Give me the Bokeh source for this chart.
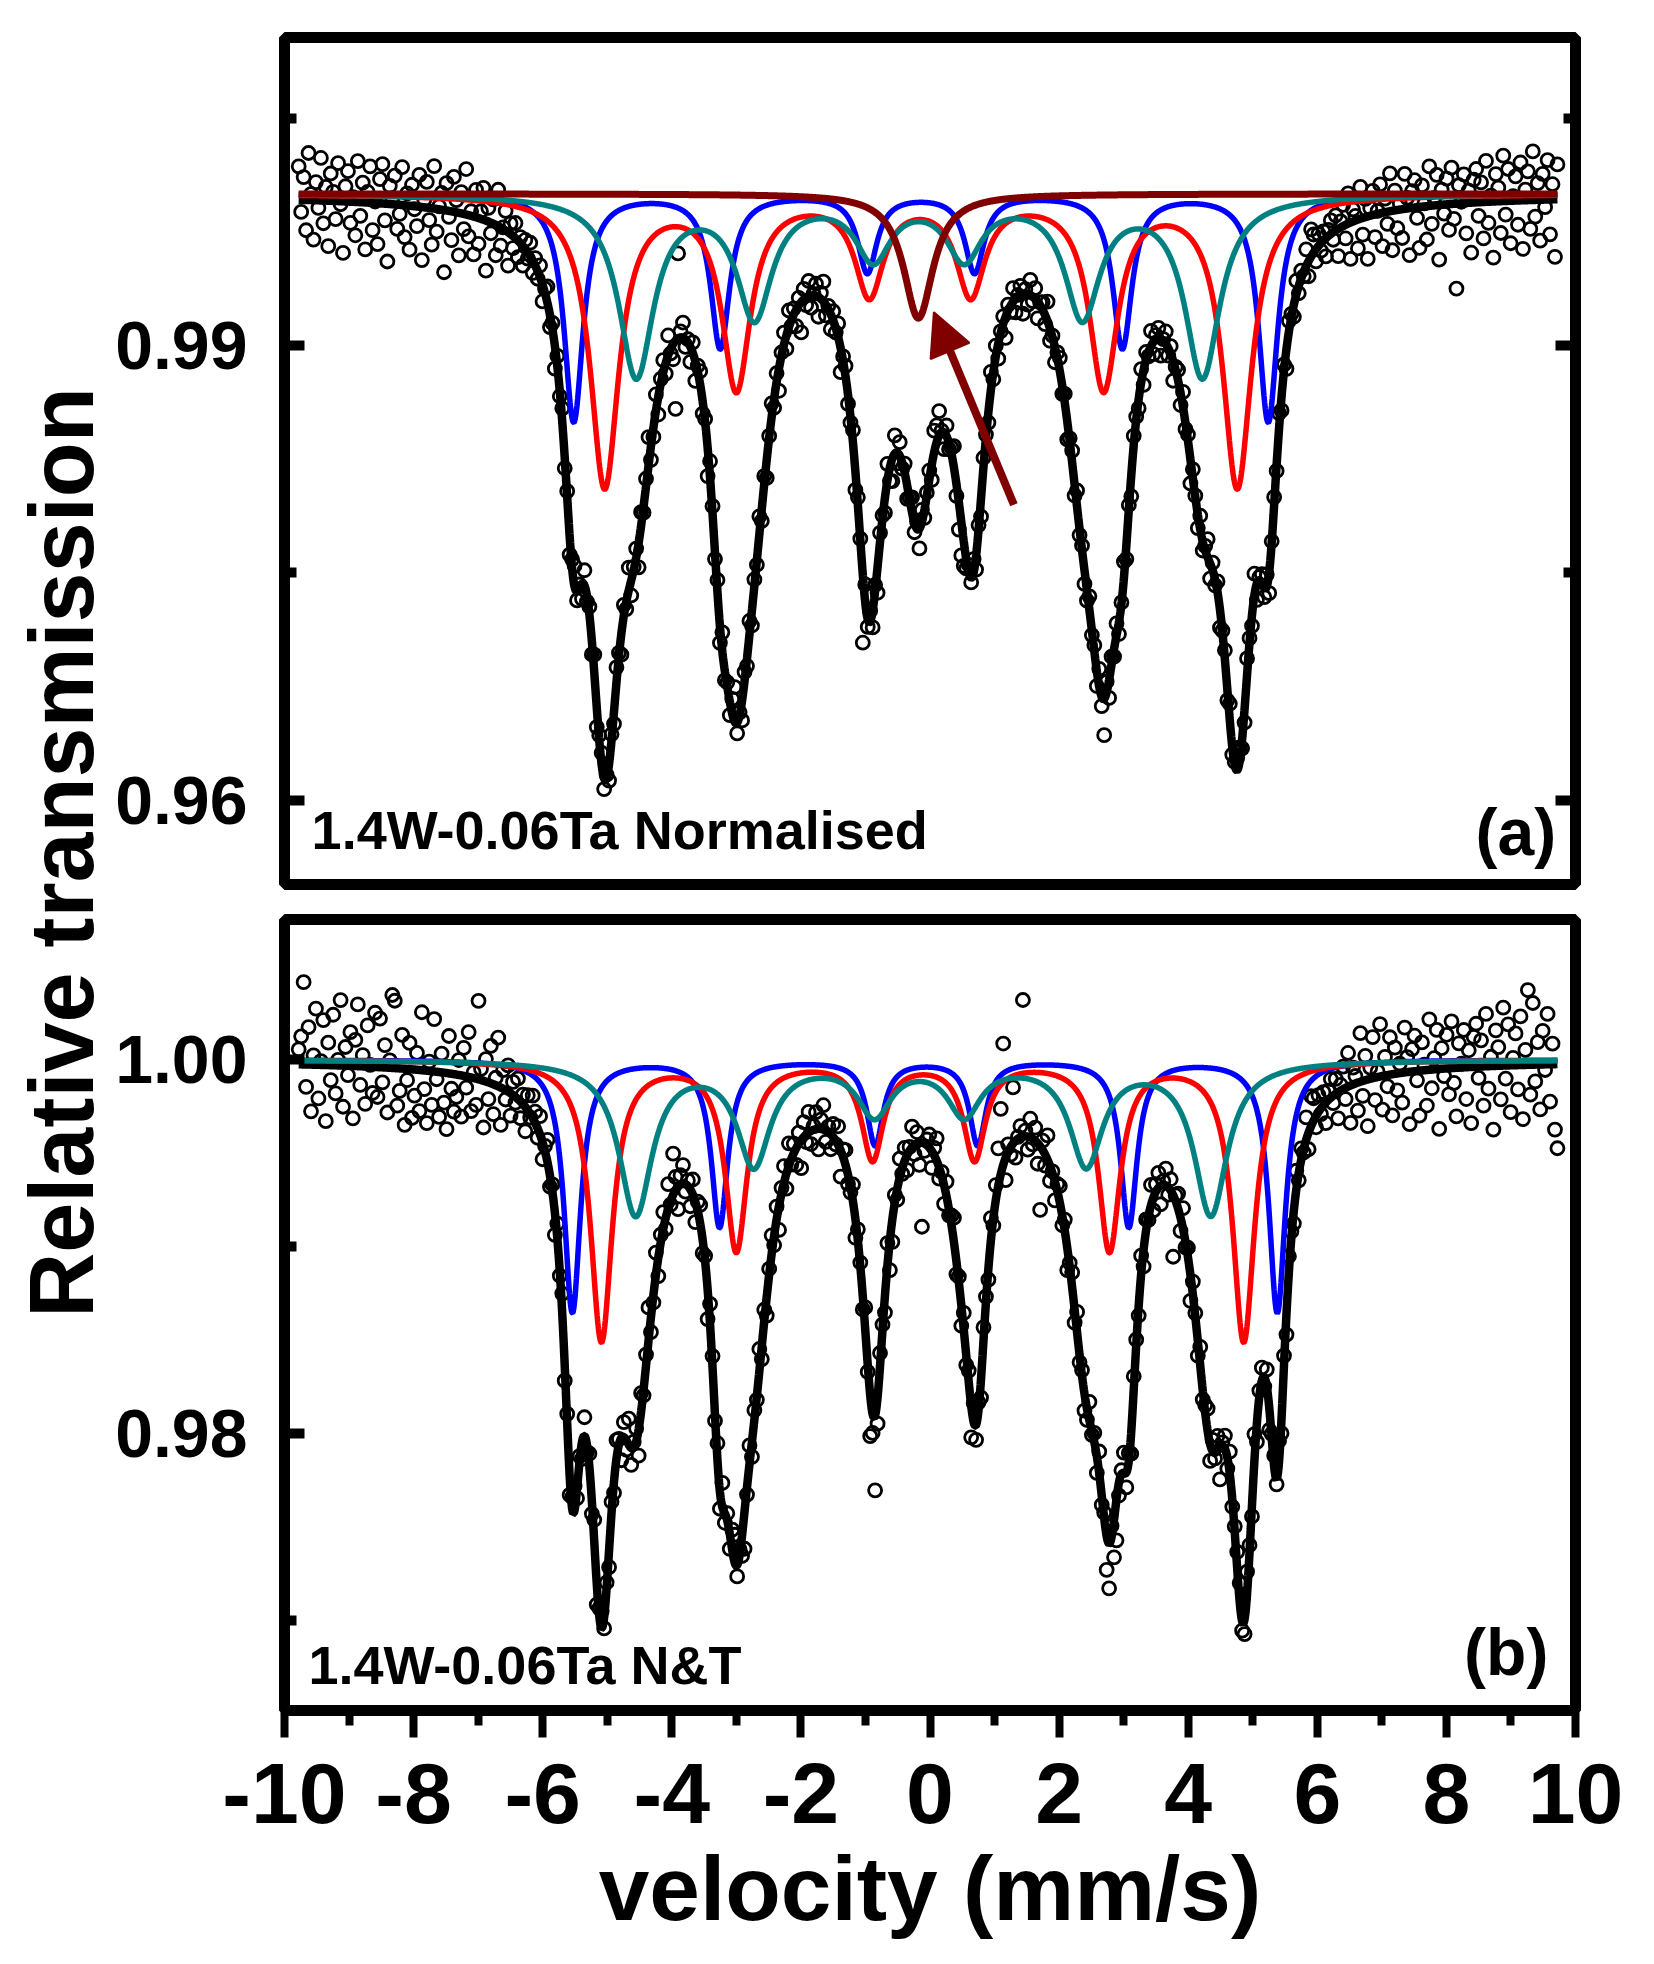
import numpy as np

from bokeh.embed import file_html
from bokeh.layouts import column, row
from bokeh.models import (Arrow, CustomJSTickFormatter, FixedTicker, Label, LinearAxis,
                          NormalHead, PrintfTickFormatter, Range1d)
from bokeh.plotting import figure
from bokeh.resources import INLINE

# velocity channels of the spectra (mm/s)
v_first, v_last = -9.78, 9.72

# --- panel (a): 1.4W-0.06Ta Normalised, sextets ---
blue_pos_a = [-5.52, -3.25, -0.97, 0.69, 2.98, 5.24]
blue_depth_a = [0.0150, 0.0101, 0.0051, 0.0051, 0.0101, 0.0150]
blue_hw_a = 0.18
red_pos_a = [-5.04, -3.00, -0.94, 0.63, 2.69, 4.76]
red_depth_a = [0.0192, 0.0126, 0.0064, 0.0064, 0.0126, 0.0192]
red_hw_a = 0.27
teal_pos_a = [-4.55, -2.72, -0.88, 0.53, 2.36, 4.22]
teal_depth_a = [0.0119, 0.0079, 0.0040, 0.0040, 0.0079, 0.0119]
teal_hw_a = 0.33
brown_pos_a = [-0.18]
brown_depth_a = [0.0082]
brown_hw_a = 0.28
# weight of every line in the black total fit, and its line broadening
blue_in_total_a = [1.0, 1.0, 1.3, 1.2, 1.0, 1.0]
red_in_total_a = [1.6, 1.75, 1.8, 1.6, 1.75, 1.6]
teal_in_total_a = [1.15, 1.4, 1.5, 1.4, 1.4, 1.15]
brown_in_total_a = [1.85]
total_broadening_a = 1.07

# --- panel (b): 1.4W-0.06Ta N&T ---
blue_pos_b = [-5.54, -3.26, -0.85, 0.74, 3.08, 5.38]
blue_depth_b = [0.0135, 0.0089, 0.0045, 0.0045, 0.0089, 0.0135]
blue_hw_b = 0.155
red_pos_b = [-5.09, -3.00, -0.89, 0.69, 2.78, 4.86]
red_depth_b = [0.0150, 0.0101, 0.0052, 0.0052, 0.0101, 0.0150]
red_hw_b = 0.205
teal_pos_b = [-4.56, -2.73, -0.86, 0.53, 2.42, 4.35]
teal_depth_b = [0.0082, 0.0055, 0.0028, 0.0028, 0.0055, 0.0082]
teal_hw_b = 0.31
blue_in_total_b = [1.3, 1.3, 1.2, 1.3, 1.3, 1.25]
red_in_total_b = [1.55, 1.55, 1.5, 1.55, 1.6, 1.55]
teal_in_total_b = [1.9, 2.0, 1.6, 2.0, 2.2, 1.9]
total_broadening_b = 1.07

# measured points minus the fit, in units of 1e-4
resid_a = [
    22, -8, 15, -20, 31, 4, -26, 12, -5, 28, -15, 9, -30, 18, 6, -12, 25, -2, -34, 10, 20, -14, 3, -22, 27, -9, 13, -31, 7, 24, -18, 1,
    -27, 16, 26, -11, -38, 12, 4, 19, -16, -6, 25, -21, 8, -29, 14, -2, -13, 21, -35, 5, 17, -8, -24, 28, -15, 2, 11, -41, 18, -4, -19, 23,
    8, -28, 14, -10, 30, -14, 3, -25, 18, -17, 5, 21, -33, 9, -7, 16, -20, 24, -12, 1, 13, -22, 7, -8, 10, -11, 4, -13, 6, -4, 9, -8,
    5, -5, 8, -11, 3, 11, -8, 4, -15, 7, -3, 9, -7, 4, -12, 6, 14, -6, 2, -10, 10, -4, 5, -9, 12, -13, 3, 8, -7, 2, -11, 4,
    -8, 10, 2, -14, 7, -5, 15, -10, 2, 6, -16, 9, -4, 5, 19, -9, -6, 11, -12, 3, 8, -7, 13, -3, -10, -45, 56, 4, 10, -5, 2, -10,
    7, -13, 4, 9, -8, 2, -19, 11, 5, -4, 8, -11, 13, -6, 3, -9, 10, 23, -7, 2, -13, 6, -5, 9, -10, 4, -3, 12, -8, 5, -12, 1,
    9, -6, 6, -15, 2, 8, -9, 11, -4, 4, -11, 5, -20, 7, -5, 10, -8, 1, 8, -13, 4, 13, -7, 2, -10, 6, -3, 9, -16, 3, 7, -6,
    -4, 8, -12, 5, 1, -45, 12, -5, 7, -11, 4, -17, 6, 2, -10, 11, -9, -15, 12, -7, 9, -4, 6, -9, 1, 10, -6, 5, -13, 8, -5, 2,
    6, -10, 14, 11, 16, 1, -11, 7, -4, 4, 14, -8, -18, -22, -16, -6, 5, -3, 9, -9, 3, -12, 6, 2, -7, 12, -5, 7, -10, 1, 5, -14,
    4, -4, 9, -9, 1, 6, -13, 3, -7, 10, -3, 7, -11, 2, 5, -6, 13, -8, 1, -10, 4, 9, -5, 6, -12, 2, 8, -7, 11, -4, 3, -9,
    -7, 9, -3, 4, -10, 12, -6, -24, 7, -12, 5, -5, 8, -8, 1, 11, -9, 3, -14, 6, 2, -6, 9, -10, 5, -3, 10, -8, 3, 7, -11, 1,
    8, -5, 5, -13, 2, 7, -8, 10, -4, 4, -16, 6, 1, -9, 9, -6, 3, 12, -10, 5, -4, 7, -12, 1, 6, -7, 11, -5, 2, 8, 9, -6,
    -9, 11, 3, -7, 14, -11, 2, 6, -6, 8, -14, 1, 5, -4, 10, -9, 4, -13, 7, 2, -8, 9, -5, 5, -3, 11, -10, 18, 12, -8, 8, -5,
    6, -12, 4, 9, -5, 10, -18, 4, 14, -9, 20, -24, 8, 3, -19, 21, -11, 12, -28, 5, 16, -15, 2, 19, -22, 9, -8, 25, -26, 13, -12, 4,
    -19, 23, 7, -31, 11, 18, -7, -27, 14, 2, -22, 26, -12, 5, 20, -36, 10, -6, 17, -17, 24, -10, -56, 12, 1, 19, -20, 8, -33, 15, 22, -9,
    13, -24, 27, -14, 4, -37, 18, 9, -21, 30, -9, 21, -28, 3, 16, -16, 25, -32, 7, 19, -19, 32, -11, 11, -27, 17, -5, 26, -23, 10, -38, 23,
]
resid_b = [
    8, 15, 44, -12, 20, -25, 5, 30, -18, 2, 24, -30, 12, -8, 27, -15, 3, 35, -22, 10, -5, 18, -28, 14, 33, -10, 6, -20, 22, 1, -14, 29,
    -16, 26, -8, 12, -24, 4, 39, 36, -20, -12, 18, -30, -6, 14, -26, -14, 9, -22, 31, -10, -28, 5, -18, 28, -4, -24, 10, -16, -30, 20, -8, -20,
    -12, 8, -22, 15, -6, 24, -18, 3, -14, 42, 6, -25, 12, -9, 20, -16, 4, 26, -20, 10, -5, 14, -12, 7, -3, 11, -9, 5, -13, 8, -2, 12,
    6, -5, 10, -9, 3, 12, -6, 4, -12, 8, -2, 11, -8, 5, -10, 6, 13, -5, 3, -9, 10, -4, 7, -7, 12, -11, 4, 9, -6, 3, -9, 6,
    -6, 10, 3, -12, 8, -5, 14, -9, 3, 7, -14, 10, -3, 6, 18, -8, -4, 12, -10, 4, 9, -6, 13, -2, 22, 7, -12, 5, 10, -4, 3, -9,
    8, -11, 5, 10, -7, 3, -16, 11, 6, -3, 9, -9, 13, -5, 4, -8, 11, 15, -6, 3, -11, -20, -4, 10, -8, 5, -2, 12, -7, 6, -10, 3,
    10, -5, 7, -13, 3, 9, -8, 12, -3, 5, -9, 6, -15, 8, -4, 11, -7, 2, 9, -11, 5, 13, -6, 3, -8, 7, -2, 10, -14, 4, 8, -5,
    -3, 9, -10, 6, 2, -7, 12, -4, -22, -10, -40, -14, 7, 3, -9, 12, -16, -12, 4, -6, 10, -3, 7, -8, 2, 11, -5, 6, -12, -45, -4, 3,
    7, -9, 4, 12, -6, 2, -10, 8, -3, 5, 13, -7, 3, -11, 9, -5, 6, -17, 10, -8, 4, -10, 7, 3, -6, 12, -4, 8, 20, 35, 65, -12,
    4, -4, 30, -9, 1, 6, 73, 3, -7, 10, -3, 7, -11, -34, 5, -6, 13, -8, 1, -10, 4, 9, -5, 6, -12, 2, 8, -7, 11, -4, 3, -9,
    -6, 10, -2, 5, -9, 12, -5, 3, -18, -24, 6, -20, -22, -7, 2, 11, -8, 4, -12, 7, 3, -5, 10, -9, 6, -2, 11, -7, 4, 8, -10, 2,
    9, -4, 6, -33, 3, 8, -7, 11, -3, 5, -14, 7, 2, -8, 10, -5, 4, 12, -9, 6, -3, 8, -17, 2, 7, -6, 12, -4, 3, 9, 10, -5,
    -8, 12, 4, -6, 14, -10, 3, 7, -5, 9, -12, 2, 6, -3, 11, -8, 5, -11, 8, 3, -7, 10, -4, 6, -2, 12, -9, 16, 12, -6, 9, -3,
    7, -11, 5, 10, -4, 8, -14, 3, 12, -6, 18, -20, 9, 4, -15, 26, -8, 13, -25, 6, 22, -12, 3, 28, -18, 10, -6, 20, -22, 14, -9, 5,
    -16, 24, 8, -28, 12, 19, -5, -24, 15, 3, -19, 27, -10, 6, 21, -32, 11, -4, 18, -14, 25, -8, -26, 13, 2, 20, -17, 9, -30, 16, 23, -6,
    14, -21, 28, -12, 5, -34, 19, 10, -18, 31, -7, 22, -25, 4, 17, -13, 26, -29, 8, 40, -16, 33, -9, 12, -24, 18, -3, 27, -20, 11, -35, -45,
]

# arrow pointing at the extra singlet in (a): tail, head (velocity, transmission)
arrow_tail_a = (1.30, 0.9795)
arrow_head_a = (0.06, 0.9922)

x_ticks = [-10, -8, -6, -4, -2, 0, 2, 4, 6, 8, 10]
x_minor = [-9, -7, -5, -3, -1, 1, 3, 5, 7, 9]
y_ticks_a, y_minor_a = [0.96, 0.99], [0.975, 1.005]
y_ticks_b, y_minor_b = [0.98, 1.00], [0.97, 0.99]

BLUE, RED, TEAL, BROWN = "#0000FF", "#FF0000", "#008080", "#800000"
FONT = "Liberation Sans"


def lorentz(v, pos, depth, hw):
    out = np.zeros_like(v)
    for p, d in zip(pos, depth):
        out += d * hw ** 2 / ((v - p) ** 2 + hw ** 2)
    return out


def total_fit(v, parts, weights, broadening):
    absorb = np.zeros_like(v)
    for (pos, depth, hw), w in zip(parts, weights):
        absorb += lorentz(v, pos, [d * k for d, k in zip(depth, w)], hw * broadening)
    return 1 - absorb


def style_y(axis, ticks, minor, labels=True):
    axis.ticker = FixedTicker(ticks=ticks, minor_ticks=minor)
    axis.axis_line_color = None
    axis.major_tick_in = 20
    axis.major_tick_out = 0
    axis.minor_tick_in = 12
    axis.minor_tick_out = 0
    axis.major_tick_line_width = 10
    axis.minor_tick_line_width = 10
    axis.major_tick_line_color = "black"
    axis.minor_tick_line_color = "black"
    if labels:
        axis.formatter = PrintfTickFormatter(format="%.2f")
        axis.major_label_text_font = FONT
        axis.major_label_text_font_style = "bold"
        axis.major_label_text_font_size = "68px"
        axis.major_label_text_color = "black"
        axis.major_label_standoff = 37
    else:
        axis.formatter = CustomJSTickFormatter(code="return ''")
        axis.major_label_standoff = 0


def panel(height, y_range, border_top, border_bottom):
    p = figure(width=1535, height=height, x_range=Range1d(-10, 10), y_range=y_range,
               output_backend="svg", toolbar_location=None, x_axis_location=None,
               min_border_left=171, min_border_right=72, min_border_top=border_top,
               min_border_bottom=border_bottom)
    p.grid.visible = False
    p.outline_line_color = "black"
    p.outline_line_width = 11
    p.outline_line_alpha = 1.0
    return p


def draw_spectrum(p, v_pts, y_pts, v, comps, total):
    p.scatter(v_pts, y_pts, marker="circle", size=13, fill_color=None,
              line_color="black", line_width=2.8)
    p.line(v, total, line_color="black", line_width=8.5)
    for y, color, width in comps:
        p.line(v, y, line_color=color, line_width=width)


def label(p, x, y, text, size, align="left"):
    p.add_layout(Label(x=x, y=y, text=text, text_font=FONT, text_font_style="bold",
                       text_font_size=size, text_color="black", text_align=align,
                       text_baseline="alphabetic"))


v = np.linspace(v_first, v_last, 2000)

# panel (a)
parts_a = [(blue_pos_a, blue_depth_a, blue_hw_a), (red_pos_a, red_depth_a, red_hw_a),
           (teal_pos_a, teal_depth_a, teal_hw_a), (brown_pos_a, brown_depth_a, brown_hw_a)]
weights_a = [blue_in_total_a, red_in_total_a, teal_in_total_a, brown_in_total_a]
comps_a = [1 - lorentz(v, *part) for part in parts_a]
total_a = total_fit(v, parts_a, weights_a, total_broadening_a)
v_pts_a = np.linspace(v_first, v_last, len(resid_a))
y_pts_a = total_fit(v_pts_a, parts_a, weights_a, total_broadening_a) + np.array(resid_a) * 1e-4

p1 = panel(894, Range1d(0.95446, 1.01031), 37, 10)
draw_spectrum(p1, v_pts_a, y_pts_a, v,
              list(zip(comps_a, [BLUE, RED, TEAL, BROWN], [5.5, 5.5, 5.5, 7])), total_a)
style_y(p1.yaxis[0], y_ticks_a, y_minor_a)
right_a = LinearAxis()
style_y(right_a, y_ticks_a, y_minor_a, labels=False)
p1.add_layout(right_a, "right")
p1.add_layout(Arrow(end=NormalHead(size=42, fill_color=BROWN, line_color=BROWN, line_width=2),
                    x_start=arrow_tail_a[0], y_start=arrow_tail_a[1],
                    x_end=arrow_head_a[0], y_end=arrow_head_a[1],
                    line_color=BROWN, line_width=8))
label(p1, -9.58, 0.95805, "1.4W-0.06Ta Normalised", "54px")
label(p1, 9.70, 0.95792, "(a)", "66px", align="right")

# panel (b)
parts_b = [(blue_pos_b, blue_depth_b, blue_hw_b), (red_pos_b, red_depth_b, red_hw_b),
           (teal_pos_b, teal_depth_b, teal_hw_b)]
weights_b = [blue_in_total_b, red_in_total_b, teal_in_total_b]
comps_b = [1 - lorentz(v, *part) for part in parts_b]
total_b = total_fit(v, parts_b, weights_b, total_broadening_b)
v_pts_b = np.linspace(v_first, v_last, len(resid_b))
y_pts_b = total_fit(v_pts_b, parts_b, weights_b, total_broadening_b) + np.array(resid_b) * 1e-4

p2 = panel(1061, Range1d(0.9652, 1.0075), 25, 245)
draw_spectrum(p2, v_pts_b, y_pts_b, v,
              list(zip(comps_b, [BLUE, RED, TEAL], [5.5, 5.5, 5.5])), total_b)
style_y(p2.yaxis[0], y_ticks_b, y_minor_b)
xaxis = LinearAxis(axis_label="velocity (mm/s)")
xaxis.ticker = FixedTicker(ticks=x_ticks, minor_ticks=x_minor)
xaxis.formatter = PrintfTickFormatter(format="%d")
xaxis.axis_line_color = None
xaxis.major_tick_in = 0
xaxis.major_tick_out = 27
xaxis.minor_tick_in = 0
xaxis.minor_tick_out = 15
xaxis.major_tick_line_width = 8
xaxis.minor_tick_line_width = 8
xaxis.major_label_text_font = FONT
xaxis.major_label_text_font_style = "bold"
xaxis.major_label_text_font_size = "86px"
xaxis.major_label_text_color = "black"
xaxis.major_label_standoff = 26
xaxis.axis_label_text_font = FONT
xaxis.axis_label_text_font_style = "bold"
xaxis.axis_label_text_font_size = "91px"
xaxis.axis_label_text_color = "black"
xaxis.axis_label_standoff = 12
p2.add_layout(xaxis, "below")
label(p2, -9.63, 0.96762, "1.4W-0.06Ta N&T", "54px")
label(p2, 9.58, 0.96832, "(b)", "66px", align="right")

# shared y axis title in a narrow strip on the left
strip_width = 112
total_height = 894 + 1061
p0 = figure(width=strip_width, height=total_height, x_range=Range1d(0, strip_width),
            y_range=Range1d(0, total_height), output_backend="svg", toolbar_location=None,
            x_axis_location=None, y_axis_location=None, min_border=0,
            min_border_left=0, min_border_right=0, min_border_top=0, min_border_bottom=0)
p0.outline_line_color = None
p0.grid.visible = False
p0.add_layout(Label(x=61, y=total_height - 852, text="Relative transmission", angle=np.pi / 2,
                    text_font=FONT, text_font_style="bold", text_font_size="90px",
                    text_color="black", text_align="center", text_baseline="middle"))

layout = row(p0, column(p1, p2))
open("out.html", "w").write(file_html(layout, INLINE))
